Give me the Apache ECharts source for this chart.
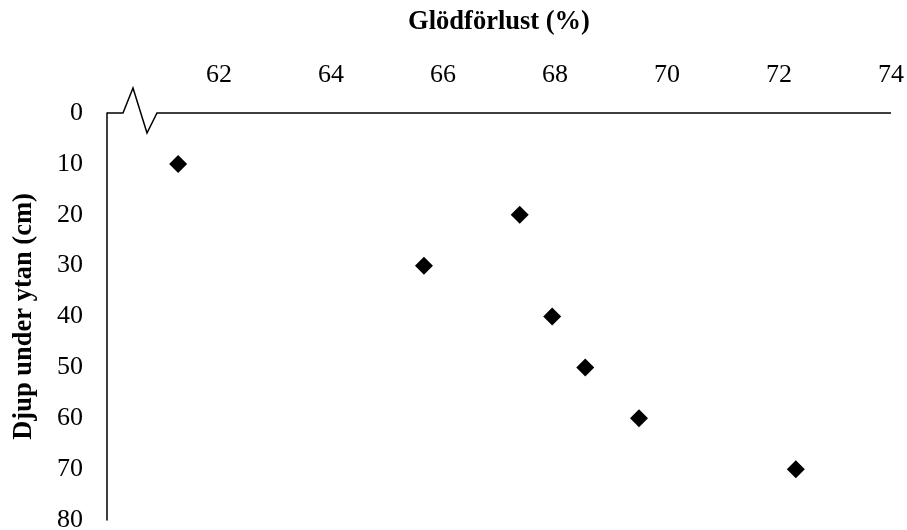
<!DOCTYPE html>
<html>
<head>
<meta charset="utf-8">
<script src="https://cdn.jsdelivr.net/npm/echarts@6/dist/echarts.min.js"></script>
<style>
  html, body { margin: 0; padding: 0; background: #fff; }
  #chart { width: 907px; height: 530px; }
</style>
</head>
<body>
<div id="chart"></div>
<script>
// Loss on ignition (%) against depth below surface (cm)
const depthCm = [10, 20, 30, 40, 50, 60, 70];
const lossOnIgnition = [61.27, 67.37, 65.66, 67.95, 68.54, 69.5, 72.3];
const xTicks = [62, 64, 66, 68, 70, 72, 74];
const yTicks = [0, 10, 20, 30, 40, 50, 60, 70, 80];

const FONT = '"Liberation Serif", "Times New Roman", serif';
const chart = echarts.init(document.getElementById('chart'));

chart.setOption({
  animation: false,
  backgroundColor: '#fff',
  grid: { left: 107, right: 16, top: 113, bottom: 10, containLabel: false, outerBoundsMode: 'none' },
  xAxis: {
    type: 'value',
    position: 'top',
    min: 60,
    max: 74,
    interval: 2,
    name: 'Glödförlust (%)',
    nameLocation: 'middle',
    nameGap: 77,
    nameTextStyle: { fontFamily: FONT, fontSize: 26.5, fontWeight: 'bold', color: '#000' },
    axisLine: { show: false },
    axisTick: { show: false },
    splitLine: { show: false },
    axisLabel: {
      fontFamily: FONT, fontSize: 26, color: '#000', margin: 25,
      formatter: v => (xTicks.indexOf(v) >= 0 ? String(v) : '')
    }
  },
  yAxis: {
    type: 'value',
    inverse: true,
    min: 0,
    max: 80,
    interval: 10,
    name: 'Djup under ytan (cm)',
    nameLocation: 'middle',
    nameGap: 69,
    nameRotate: 90,
    nameTextStyle: { fontFamily: FONT, fontSize: 26.5, fontWeight: 'bold', color: '#000' },
    axisLine: { show: true, lineStyle: { color: '#000', width: 1.5 } },
    axisTick: { show: false },
    splitLine: { show: false },
    axisLabel: {
      fontFamily: FONT, fontSize: 26, color: '#000', margin: 24,
      formatter: v => (yTicks.indexOf(v) >= 0 ? String(v) : '')
    }
  },
  series: [{
    type: 'scatter',
    symbol: 'diamond',
    symbolSize: 18,
    itemStyle: { color: '#000', opacity: 1 },
    data: lossOnIgnition.map((x, i) => [x, depthCm[i]])
  }]
});

// Top axis line with a zigzag break just after the origin
const o = chart.convertToPixel({ gridIndex: 0 }, [60, 0]);
const e = chart.convertToPixel({ gridIndex: 0 }, [74, 0]);
chart.setOption({
  graphic: [{
    type: 'polyline',
    silent: true,
    z: 10,
    shape: {
      points: [
        [o[0], o[1]],
        [o[0] + 16, o[1]],
        [o[0] + 26, o[1] - 25],
        [o[0] + 40, o[1] + 20],
        [o[0] + 50, o[1]],
        [e[0], e[1]]
      ]
    },
    style: { stroke: '#000', lineWidth: 1.5, fill: null }
  }]
});
</script>
</body>
</html>
